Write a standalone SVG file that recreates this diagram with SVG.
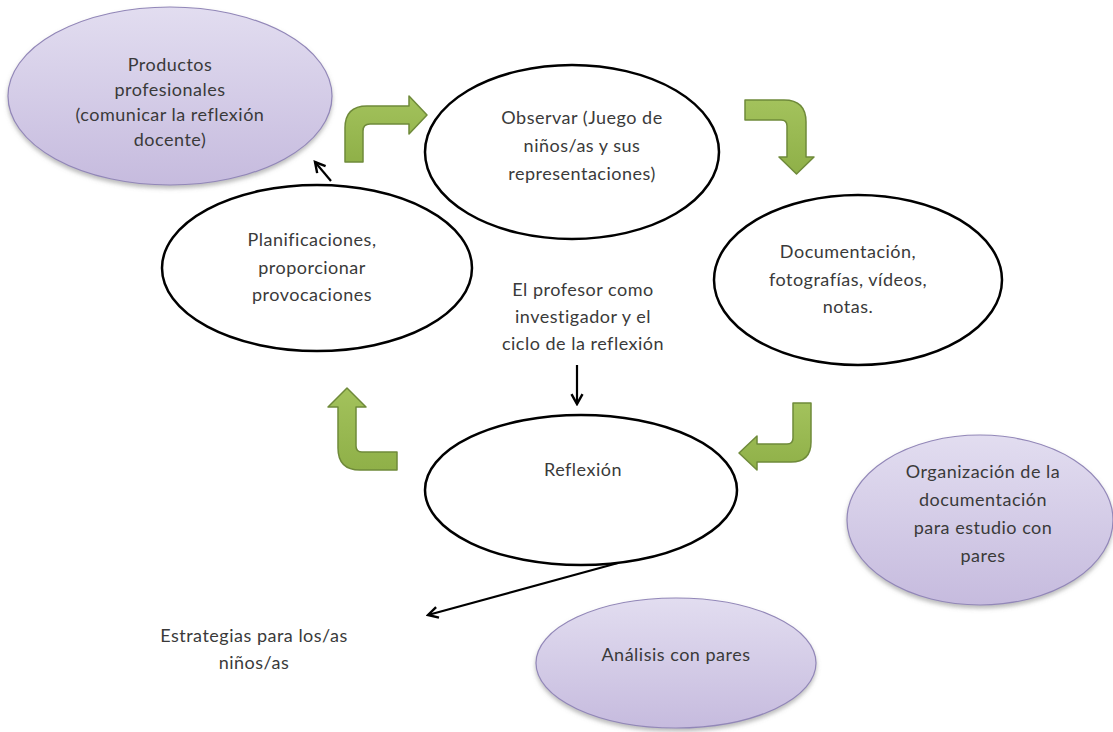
<svg xmlns="http://www.w3.org/2000/svg" width="1113" height="732" viewBox="0 0 1113 732">
<defs>
<style>
.t{font-family:Lato,"Open Sans","Liberation Sans",sans-serif;font-size:18px;letter-spacing:0.5px;fill:#3a3a3a;text-anchor:middle}
.oval{fill:#fff;stroke:#000;stroke-width:2.5}
.purple{fill:url(#pg);stroke:#9287b8;stroke-width:1.2;filter:url(#sh)}
.green{fill:url(#gg);stroke:#6f8a3a;stroke-width:1.5;stroke-linejoin:round}
.conn{fill:none;stroke:#000;stroke-width:2.2;marker-end:url(#ah)}
</style>
<linearGradient id="pg" x1="0" y1="0" x2="0" y2="1">
<stop offset="0" stop-color="#e2ddf0"/>
<stop offset="1" stop-color="#c6bbde"/>
</linearGradient>
<linearGradient id="gg" x1="0" y1="0" x2="0" y2="1">
<stop offset="0" stop-color="#a3c25c"/>
<stop offset="1" stop-color="#8fb048"/>
</linearGradient>
<filter id="sh" x="-10%" y="-10%" width="120%" height="130%">
<feDropShadow dx="0" dy="3" stdDeviation="2" flood-color="#777" flood-opacity="0.5"/>
</filter>
<marker id="ah" viewBox="0 0 12 12" refX="10" refY="6" markerWidth="6" markerHeight="6" orient="auto" markerUnits="strokeWidth">
<path d="M1,1 L10,6 L1,11" fill="none" stroke="#000" stroke-width="2.2"/>
</marker>
</defs>
<rect width="1113" height="732" fill="#fff"/>

<g id="productos">
<ellipse class="purple" cx="170" cy="96" rx="162" ry="89"/>
<text class="t" x="170" y="71">Productos</text>
<text class="t" x="170" y="96">profesionales</text>
<text class="t" x="170" y="121">(comunicar la reflexión</text>
<text class="t" x="170" y="146">docente)</text>
</g>

<g id="observar">
<ellipse class="oval" cx="572" cy="152" rx="147" ry="87"/>
<text class="t" x="582" y="124">Observar (Juego de</text>
<text class="t" x="582" y="152">niños/as y sus</text>
<text class="t" x="582" y="180">representaciones)</text>
</g>

<g id="documentacion">
<ellipse class="oval" cx="858" cy="280" rx="144" ry="85"/>
<text class="t" x="848" y="258">Documentación,</text>
<text class="t" x="848" y="286">fotografías, vídeos,</text>
<text class="t" x="848" y="313">notas.</text>
</g>

<g id="planificaciones">
<ellipse class="oval" cx="317" cy="268" rx="155" ry="83"/>
<text class="t" x="312" y="246">Planificaciones,</text>
<text class="t" x="312" y="274">proporcionar</text>
<text class="t" x="312" y="301">provocaciones</text>
</g>

<g id="centro">
<text class="t" x="583" y="296">El profesor como</text>
<text class="t" x="583" y="323">investigador y el</text>
<text class="t" x="583" y="350">ciclo de la reflexión</text>
</g>

<g id="reflexion">
<ellipse class="oval" cx="581" cy="490" rx="156" ry="75"/>
<text class="t" x="583" y="476">Reflexión</text>
</g>

<g id="organizacion">
<ellipse class="purple" cx="980" cy="520" rx="133" ry="85"/>
<text class="t" x="983" y="478">Organización de la</text>
<text class="t" x="983" y="506">documentación</text>
<text class="t" x="983" y="534">para estudio con</text>
<text class="t" x="983" y="562">pares</text>
</g>

<g id="analisis">
<ellipse class="purple" cx="676" cy="663" rx="140" ry="65"/>
<text class="t" x="676" y="661">Análisis con pares</text>
</g>

<g id="estrategias">
<text class="t" x="254" y="642">Estrategias para los/as</text>
<text class="t" x="254" y="669">niños/as</text>
</g>

<g id="connectors">
<path class="green" d="M345,162 L345,128 Q345,106 367,106 L409,106 L409,96 L427,115 L409,134 L409,124 L370,124 Q363,124 363,131 L363,162 Z"/>
<path class="green" d="M745,100 L784,100 Q806,100 806,122 L806,157 L814,157 L796.5,174 L779,157 L787,157 L787,126 Q787,120 781,120 L745,120 Z"/>
<path class="green" d="M811,403 L811,442 Q811,462 791,462 L757,462 L757,470 L739,453 L757,436 L757,444 L787,444 Q793,444 793,438 L793,403 Z"/>
<path class="green" d="M397,470 L360,470 Q338,470 338,448 L338,407 L328,407 L347,388 L366,407 L356,407 L356,446 Q356,452 362,452 L397,452 Z"/>
<path class="conn" d="M331,181 L315,162"/>
<path class="conn" d="M577,365 L577,404"/>
<path class="conn" d="M618,563 L428,615"/>
</g>
</svg>
